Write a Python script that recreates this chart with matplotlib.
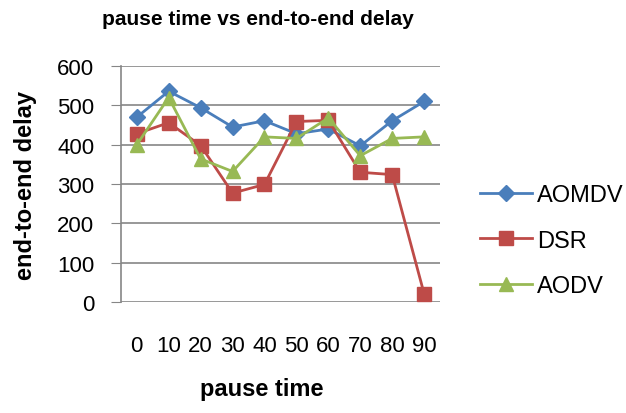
import matplotlib.pyplot as plt
from matplotlib import font_manager

# fonts: prefer a narrow sans if one is installed
names = {f.name for f in font_manager.fontManager.ttflist}
narrow = 'Liberation Sans Narrow' if 'Liberation Sans Narrow' in names else 'Liberation Sans'
plt.rcParams['font.family'] = [narrow, 'DejaVu Sans']

#### data #####
pause = ['0', '10', '20', '30', '40', '50', '60', '70', '80', '90']
aomdv = [470, 536, 494, 445, 461, 428, 440, 397, 461, 510]
dsr = [428, 456, 398, 277, 299, 459, 462, 330, 324, 21]
aodv = [400, 520, 364, 332, 420, 416, 468, 372, 416, 420]

fig = plt.figure(figsize=(6.26, 4.14), dpi=100)
ax = fig.add_axes([0.193, 0.268, 0.510, 0.570])

x = range(len(pause))
ax.plot(x, aomdv, color='#4A7EBB', lw=2, marker='D', ms=8, label='AOMDV')
ax.plot(x, dsr, color='#BE4B48', lw=2, marker='s', ms=9.5, label='DSR')
ax.plot(x, aodv, color='#98B954', lw=2, marker='^', ms=10, label='AODV')

ax.set_xlim(-0.5, 9.5)
ax.set_ylim(0, 600)
ax.set_yticks(range(0, 601, 100))
ax.set_xticks(list(x))
ax.set_xticklabels(pause)
ax.yaxis.grid(True, color='#868686', lw=1.2)
ax.set_axisbelow(True)
for s in ['top', 'right', 'bottom']:
    ax.spines[s].set_visible(False)
ax.spines['left'].set_color('#868686')
ax.spines['left'].set_linewidth(1.2)
ax.tick_params(axis='y', length=7, color='#868686', labelsize=16, pad=12)
ax.tick_params(axis='x', length=0, labelsize=16, pad=24)

fig.text(0.412, 0.952, 'pause time vs end-to-end delay', fontsize=15,
         fontweight='bold', ha='center', va='center')
ax.set_xlabel('pause time', fontsize=17, fontweight='bold')
ax.xaxis.set_label_coords(0.442, -0.318)
ax.set_ylabel('end-to-end delay', fontsize=17, fontweight='bold')
ax.yaxis.set_label_coords(-0.263, 0.5)

ax.legend(loc='center left', bbox_to_anchor=(1.125, 0.26), frameon=False,
          fontsize=17, handlelength=2.2, labelspacing=1.0, handletextpad=0.2,
          borderaxespad=0, borderpad=0)

plt.savefig('out.png', dpi=100)
